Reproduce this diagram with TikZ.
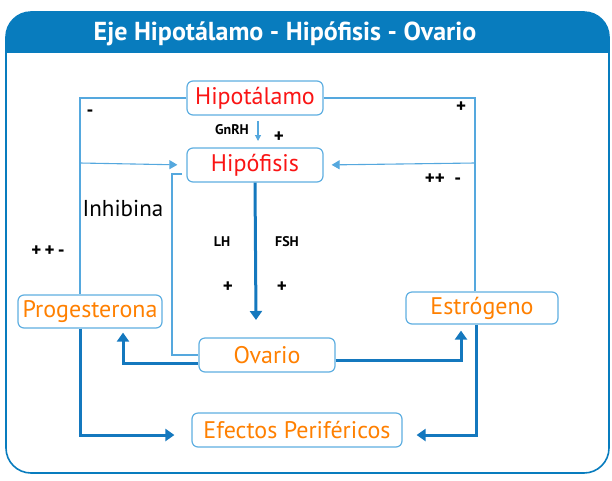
\documentclass[tikz,border=0pt]{standalone}
\usepackage{fontspec}
\setmainfont{PT Sans}
\usetikzlibrary{arrows.meta,calc}
\definecolor{hdr}{RGB}{8,124,190}
\definecolor{boxc}{RGB}{95,175,225}
\definecolor{thin}{RGB}{85,168,222}
\definecolor{thick}{RGB}{20,120,190}
\definecolor{redt}{RGB}{250,20,20}
\definecolor{orat}{RGB}{255,128,0}
\tikzset{
  hbox/.style={draw=boxc, line width=1.2pt, rounded corners=6pt, fill=white, inner sep=0pt, font=\fontsize{24}{26}\selectfont},
  redbox/.style={hbox, text=redt},
  orabox/.style={hbox, text=orat},
  thinline/.style={draw=thin, line width=1.1pt},
  thinarrow/.style={thinline, -{Triangle[width=9pt,length=8pt]}},
  thickarrow/.style={draw=thick, line width=3pt, -{Triangle[width=12pt,length=9pt]}},
  small/.style={font=\bfseries\fontsize{14}{15}\selectfont},
  sign/.style={font=\bfseries\fontsize{19}{19}\selectfont},
}
\begin{document}
\begin{tikzpicture}[x=1pt,y=-1pt]
\useasboundingbox (0,0) rectangle (612,480);
% frame and header
\begin{scope}
\clip[rounded corners=25pt] (6,12) rectangle (609,473);
\fill[hdr] (6,12) rectangle (609,53);
\end{scope}
\draw[hdr, line width=1.6pt, rounded corners=25pt] (6,12) rectangle (609,473);
\node[text=white, font=\bfseries\fontsize{26}{28}\selectfont] (title) at (285,34) {Eje Hipotálamo - Hipófisis - Ovario};
% boxes
\node[redbox, minimum width=136pt, minimum height=34pt] (hipo) at (255,98) {Hipotálamo};
\node[redbox, minimum width=136pt, minimum height=34pt] (hipof) at (255,165) {Hipófisis};
\node[orabox, minimum width=136pt, minimum height=34pt] (ova) at (267,355) {Ovario};
\node[orabox, minimum width=144pt, minimum height=33pt] (prog) at (90,311.5) {Progesterona};
\node[orabox, minimum width=152pt, minimum height=32pt] (estr) at (482,308) {Estrógeno};
\node[orabox, minimum width=210pt, minimum height=34pt] (efec) at (297,430) {Efectos Periféricos};
% coordinates
\coordinate (lx) at (80,0);
\coordinate (rx) at (475,0);
\coordinate (lb) at (80,163);
\coordinate (rb) at (475,163);
\coordinate (gn1) at (258,121);
\coordinate (gn2) at (258,141);
\coordinate (hl1) at (182,174);
\coordinate (hl2) at (172,174);
\coordinate (lhtip) at (256,320);
\coordinate (pup) at (123,363);
\coordinate (eup) at (461,360);
\coordinate (pdn) at (80,435);
\coordinate (edn) at (476,435);
% thin connectors
\draw[thinline] (hipo.west) -| (prog.north -| lx);
\draw[thinline] (hipo.east) -| (estr.north -| rx);
\draw[thinarrow, shorten >=9pt] (lb) -- (hipof.west);
\draw[thinarrow, shorten >=8pt] (rb) -- (hipof.east);
\draw[thinline, -{Triangle[width=6pt,length=6pt]}] (gn1) -- (gn2);
\draw[thinline] (hl1) -- (hl2) |- (ova.west);
% thick arrows
\draw[thickarrow] (hipof.south) -- (lhtip);
\draw[thickarrow] (ova.west |- pup) -| ($(prog.south -| pup)+(0,4)$);
\draw[thickarrow] (ova.east |- eup) -| ($(estr.south -| eup)+(0,6)$);
\draw[thickarrow] (prog.south -| pdn) |- ($(efec.west |- pdn)+(-17,0)$);
\draw[thickarrow] (estr.south -| edn) |- ($(efec.east |- edn)+(14,0)$);
% labels
\node[small] (gnrh) at (232,130) {GnRH};
\node[sign] (s1) at (279,137) {+};
\node[sign] (s2) at (90,113) {-};
\node[sign] (s3) at (461,107) {+};
\node[sign] (s4) at (443,179) {++~~-};
\node[font=\fontsize{23}{24}\selectfont] (inh) at (123,208) {Inhibina};
\node[sign] (s5) at (48,251) {+\,+\,-};
\node[small] (lh) at (222,242) {LH};
\node[small] (fsh) at (287,242) {FSH};
\node[sign] (s6) at (228,287) {+};
\node[sign] (s7) at (282,287) {+};
\end{tikzpicture}
\end{document}
